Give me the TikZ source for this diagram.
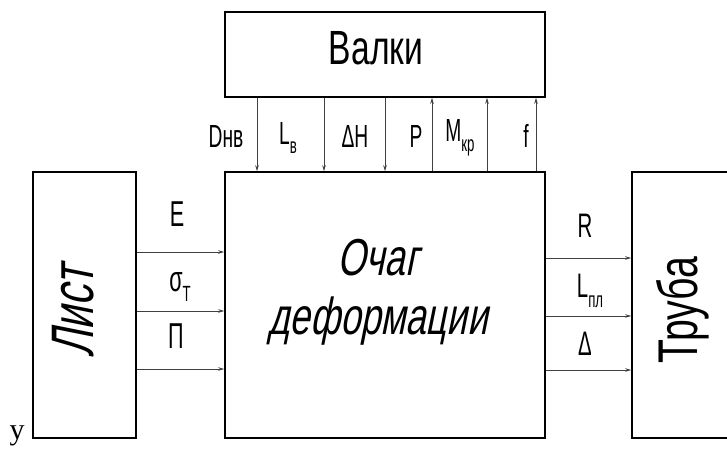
\documentclass[tikz,border=0pt]{standalone}
\usepackage{fontspec}
\setmainfont{Liberation Sans}
\newfontfamily\gost[FakeStretch=0.7]{Liberation Sans}
\newfontfamily\gostn[FakeStretch=0.6]{Liberation Sans}
\newfontfamily\gostit[FakeStretch=0.7,FakeSlant=0.2]{Liberation Sans}
\newfontfamily\serify{Liberation Serif}
\usetikzlibrary{arrows.meta}
\newcommand\fs[1]{\fontsize{#1}{#1}\selectfont}
\newcommand\sbx[2]{\raisebox{-0.3em}{\fs{#1}#2}}
\begin{document}
\begin{tikzpicture}[x=1pt,y=-1pt,
  box/.style={draw, line width=1.6pt, inner sep=0pt},
  flow/.style={draw=black!75, line width=0.7pt, -{Stealth[length=6pt,width=3.5pt]}},
  toplbl/.style={inner sep=0pt, font=\gostn\fs{32}},
  leftlbl/.style={inner sep=0pt, font=\gostn\fs{36}},
  rightlbl/.style={inner sep=0pt, font=\gostn\fs{34}}]
\useasboundingbox (0,0) rectangle (727,454);
% boxes
\node[box, minimum width=320pt, minimum height=85pt] (valki) at (385,54.5) {};
\node[box, minimum width=320pt, minimum height=266pt] (ochag) at (385,305) {};
\node[box, minimum width=103pt, minimum height=266pt] (list) at (84.5,305) {};
\node[box, minimum width=120pt, minimum height=266pt] (truba) at (692,305) {};
% texts in boxes
\node[inner sep=0pt, font=\gost\fs{48}] (tv) at (376,48) {Валки};
\node[inner sep=0pt, font=\gostit\fontsize{52}{59}\selectfont, align=center] (to) at (378,292) {Очаг\\деформации};
\node[inner sep=0pt, rotate=90, font=\gostit\fs{60}] (tl) at (73,312) {Лист};
\node[inner sep=0pt, rotate=90, font=\gost\fs{56}] (tt) at (683,310) {Труба};
% top connectors
\coordinate (a1) at (257,0);
\coordinate (a2) at (324,0);
\coordinate (a3) at (385,0);
\coordinate (a4) at (432,0);
\coordinate (a5) at (487,0);
\coordinate (a6) at (536,0);
\draw[flow] (valki.south -| a1) -- (ochag.north -| a1);
\draw[flow] (valki.south -| a2) -- (ochag.north -| a2);
\draw[flow] (valki.south -| a3) -- (ochag.north -| a3);
\draw[flow] (ochag.north -| a4) -- (valki.south -| a4);
\draw[flow] (ochag.north -| a5) -- (valki.south -| a5);
\draw[flow] (ochag.north -| a6) -- (valki.south -| a6);
% left connectors
\coordinate (l1) at (0,252);
\coordinate (l2) at (0,311);
\coordinate (l3) at (0,369);
\draw[flow] (list.east |- l1) -- (ochag.west |- l1);
\draw[flow] (list.east |- l2) -- (ochag.west |- l2);
\draw[flow] (list.east |- l3) -- (ochag.west |- l3);
% right connectors
\coordinate (r1) at (0,258);
\coordinate (r2) at (0,316);
\coordinate (r3) at (0,370);
\draw[flow] (ochag.east |- r1) -- (truba.west |- r1);
\draw[flow] (ochag.east |- r2) -- (truba.west |- r2);
\draw[flow] (ochag.east |- r3) -- (truba.west |- r3);
% top labels
\node[toplbl] (ldnv) at (226,136) {Dнв};
\node[toplbl] (llv) at (288,138) {L\sbx{22}{в}};
\node[toplbl] (ldh) at (355,136) {ΔH};
\node[toplbl] (lp) at (416,136) {P};
\node[toplbl] (lm) at (460,138) {M\sbx{22}{кр}};
\node[toplbl] (lf) at (526,136) {f};
% left labels
\node[leftlbl] (le) at (177,214) {E};
\node[leftlbl] (ls) at (180,287) {σ\sbx{22}{T}};
\node[leftlbl] (lpi) at (176,336) {П};
% right labels
\node[rightlbl] (lr) at (585,226) {R};
\node[rightlbl] (llpl) at (590,291) {L\sbx{22}{пл}};
\node[rightlbl] (ld) at (585,344) {Δ};
% stray letter
\node[inner sep=0pt, font=\serify\fs{30}] (ly) at (17,436) {y};
\end{tikzpicture}
\end{document}
